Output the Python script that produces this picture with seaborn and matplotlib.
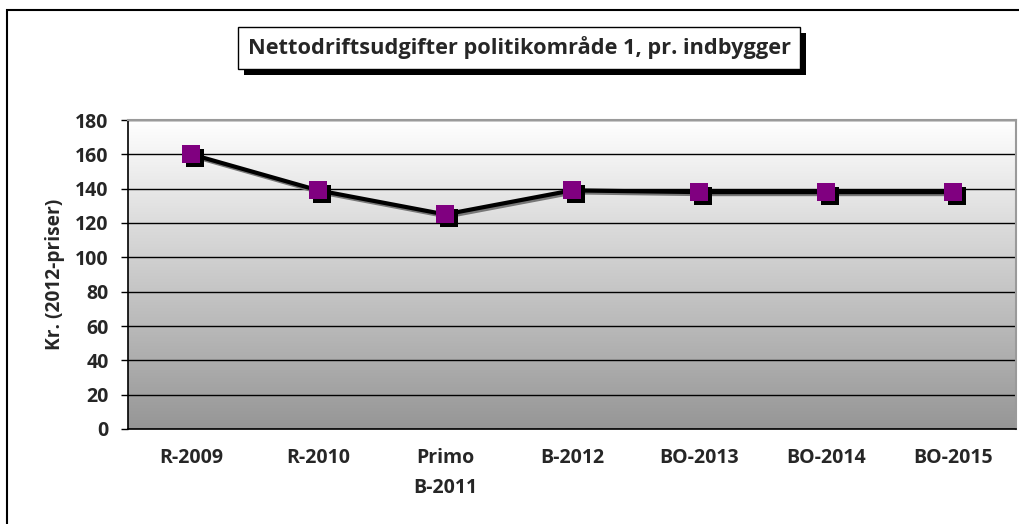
import numpy as np
import pandas as pd
import seaborn as sns
import matplotlib.pyplot as plt
from matplotlib.patches import Rectangle
from matplotlib.colors import LinearSegmentedColormap
from matplotlib.transforms import ScaledTranslation

categories = ['R-2009', 'R-2010', 'Primo\nB-2011', 'B-2012', 'BO-2013', 'BO-2014', 'BO-2015']
values = [160, 139, 125, 139, 138, 138, 138]
y_ticks = [0, 20, 40, 60, 80, 100, 120, 140, 160, 180]

title = 'Nettodriftsudgifter politikområde 1, pr. indbygger'
y_label = 'Kr. (2012-priser)'

sns.set_style('white')
plt.rcParams['font.family'] = ['Open Sans', 'DejaVu Sans']
plt.rcParams['font.weight'] = 'bold'

W, H, DPI = 1019, 524, 100
fig = plt.figure(figsize=(W / DPI, H / DPI), dpi=DPI)

def px(x0, y0, x1, y1):
    # pixel box (top-left origin) -> figure fraction rect
    return [x0 / W, 1 - y1 / H, (x1 - x0) / W, (y1 - y0) / H]

# outer chart frame (only left/top visible in the original)
fig.patches.append(Rectangle((7 / W, -0.1), 1.2, 1 - 10 / H + 0.1, transform=fig.transFigure,
                             fill=False, edgecolor='black', linewidth=1.5, zorder=0))

ax = fig.add_axes(px(128, 120, 1016, 429))

df = pd.DataFrame({'kategori': categories, 'kr': values})

# gradient plot area
grad = np.linspace(1, 0, 256).reshape(-1, 1)
ax.imshow(grad, extent=[0, 1, 0, 1], transform=ax.transAxes, aspect='auto',
          cmap=LinearSegmentedColormap.from_list('g', ['#969696', '#ffffff']), zorder=0)

shadow = ax.transData + ScaledTranslation(4 / DPI, -4 / DPI, fig.dpi_scale_trans)
line_shadow = ax.transData + ScaledTranslation(2 / DPI, -2 / DPI, fig.dpi_scale_trans)

sns.lineplot(data=df, x='kategori', y='kr', ax=ax, color='#777777', linewidth=3,
             transform=line_shadow, zorder=3, sort=False)
sns.lineplot(data=df, x='kategori', y='kr', ax=ax, color='black', linestyle='none',
             marker='s', markersize=13, markeredgewidth=0, transform=shadow, zorder=4, sort=False)
sns.lineplot(data=df, x='kategori', y='kr', ax=ax, color='black', linewidth=3,
             zorder=5, sort=False)
sns.lineplot(data=df, x='kategori', y='kr', ax=ax, color='#800080', linestyle='none',
             marker='s', markersize=13, markeredgewidth=0, zorder=6, sort=False)

ax.set_xlim(-0.5, len(categories) - 0.5)
ax.set_ylim(0, 180)
ax.set_yticks(y_ticks)
ax.set_yticklabels([str(v) for v in y_ticks], fontsize=14, fontweight='bold')
ax.set_xticks(range(len(categories)))
ax.set_xticklabels(categories, fontsize=14, fontweight='bold', linespacing=1.65)
ax.set_xticks(np.arange(-0.5, len(categories)), minor=True)
ax.tick_params(axis='x', which='major', length=0, pad=14)
ax.tick_params(axis='x', which='minor', length=5, width=1, color='black', direction='out')
ax.tick_params(axis='y', length=5, width=1, color='black', direction='out', left=True, pad=9)

ax.grid(axis='y', color='black', linewidth=1)
for gl in ax.get_ygridlines():
    gl.set_zorder(1)

ax.set_xlabel('')
ax.set_ylabel(y_label, fontsize=13.8, fontweight='bold', labelpad=7)

for s in ['left', 'bottom']:
    ax.spines[s].set_color('black')
    ax.spines[s].set_linewidth(1.2)
for s in ['top', 'right']:
    ax.spines[s].set_color('#9a9a9a')
    ax.spines[s].set_linewidth(1.5)

# title box with drop shadow
sx, sy, sw, sh = px(244, 33, 806, 75)
fig.patches.append(Rectangle((sx, sy), sw, sh, transform=fig.transFigure,
                             facecolor='black', edgecolor='none', zorder=1))
bx, by, bw, bh = px(238, 27, 800, 69)
fig.patches.append(Rectangle((bx, by), bw, bh, transform=fig.transFigure,
                             facecolor='white', edgecolor='black', linewidth=1, zorder=2))
fig.text(520 / W, 1 - 48 / H, title, ha='center', va='center', fontsize=15.7,
         fontweight='bold', zorder=3)

fig.savefig('out.png', dpi=DPI)
